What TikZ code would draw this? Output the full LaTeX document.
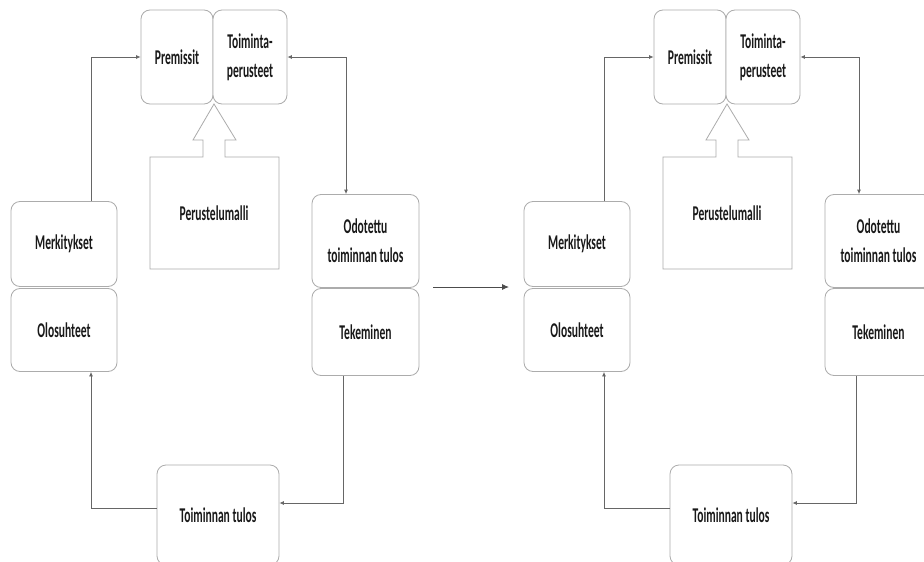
\documentclass[tikz,border=0pt]{standalone}
\usepackage{fontspec}
\newfontfamily\lblfont{Carlito}[FakeStretch=0.55]
\usetikzlibrary{arrows.meta}
\tikzset{
  box/.style={draw=gray!65, line width=0.8pt, rounded corners=9pt, fill=white, inner sep=0pt,
    align=center, font=\lblfont\bfseries\fontsize{21}{29}\selectfont, text=black!90},
  lbl/.style={inner sep=0pt, align=center, font=\lblfont\bfseries\fontsize{21}{29}\selectfont, text=black!90},
  conn/.style={draw=black!60, line width=0.8pt, -{Latex[length=4.5pt,width=4pt]}},
  bothconn/.style={draw=black!60, line width=0.8pt, {Latex[length=4.5pt,width=4pt]}-{Latex[length=4.5pt,width=4pt]}},
  bigconn/.style={draw=black!70, line width=0.9pt, -{Latex[length=7pt,width=6pt]}},
  bigarrow/.style={draw=gray!65, line width=0.8pt, fill=white},
}
\newcommand\drawcycle[1]{%
  \node[box, minimum width=72pt, minimum height=94pt] (#1prem) at (177,57) {Premissit};
  \node[box, minimum width=74pt, minimum height=94pt] (#1toim) at (250,57) {Toiminta-\\perusteet};
  \node[box, minimum width=106pt, minimum height=85pt] (#1merk) at (64,244) {Merkitykset};
  \node[box, minimum width=106pt, minimum height=83pt] (#1olos) at (64,330) {Olosuhteet};
  \node[box, minimum width=107pt, minimum height=93pt] (#1odot) at (365.5,241) {Odotettu\\toiminnan tulos};
  \node[box, minimum width=107pt, minimum height=87pt] (#1teke) at (365.5,332) {Tekeminen};
  \node[box, minimum width=122pt, minimum height=100pt] (#1tulos) at (218,515) {Toiminnan tulos};
  \draw[bigarrow] (150,157) -- (150,269) -- (279,269) -- (279,157) -- (225,157) -- (225,140)
     -- (236,140) -- (214,104) -- (193,140) -- (203,140) -- (203,157) -- cycle;
  \node[lbl] (#1peru) at (214,213) {Perustelumalli};
  \draw[conn] ([xshift=27pt]#1merk.north) |- (#1prem.west);
  \draw[bothconn] (#1toim.east) -| ([xshift=-19.5pt]#1odot.north);
  \draw[conn] ([xshift=-22.5pt]#1teke.south) |- ([yshift=12pt]#1tulos.east);
  \draw[conn] ([yshift=7pt]#1tulos.west) -| ([xshift=27pt]#1olos.south);
}
\begin{document}
\begin{tikzpicture}[x=1pt,y=-1pt]
  \useasboundingbox (0,0) rectangle (924,562);
  \fill[white] (0,0) rectangle (924,562);
  \clip (0,0) rectangle (924,562);
  \drawcycle{l}
  \begin{scope}[xshift=513pt]
    \drawcycle{r}
  \end{scope}
  \coordinate (ma) at (433,287);
  \coordinate (mb) at (509,287);
  \draw[bigconn] (ma) -- (mb);
\end{tikzpicture}
\end{document}
